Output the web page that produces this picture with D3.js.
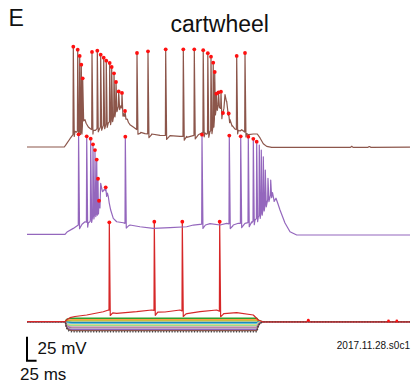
<!DOCTYPE html>
<html>
<head>
<meta charset="utf-8">
<script src="https://cdn.jsdelivr.net/npm/d3@7"></script>
<style>
  body { margin: 0; background: #fff; }
  svg { display: block; }
  text { font-family: "Liberation Sans", Arial, Helvetica, sans-serif; fill: #111; }
</style>
</head>
<body>
<svg id="chart" width="420" height="384"></svg>
<script>
// ---- recordings: time in ms, membrane potential in mV ----
// slow (sub-spike) membrane potential of each sweep, [t, mV]
const brownEnvelope = [
  [0,-65],[97.4,-65],[101.8,-62.6],[112.3,-56.4],[120.1,-52.2],[125.3,-48.8],[138.4,-48.0],
  [143.6,-47.5],[147.0,-33.1],[151.4,-36.6],[160.1,-44.2],[166.3,-46.3],[173.1,-47.7],
  [186.2,-45.2],[199.2,-42.8],[212.3,-40.0],[221.1,-36.6],[227.9,-31.4],[234.2,-24.4],
  [241.0,-22.0],[245.4,-22.0],[251.4,-30.0],[254.0,-33.0],[258.5,-32.0],[261.9,-36.0],
  [268.9,-41.8],[277.5,-44.2],[284.6,-46.3],[296.9,-49.8],[308.1,-51.1],[325.6,-51.5],
  [347.3,-52.9],[373.4,-53.2],[399.5,-54.0],[417.0,-54.0],[447.3,-52.2],[456.1,-50.4],
  [464.8,-50.4],[474.4,-51.1],[477.8,-48.8],[483.0,-47.0],[487.5,-41.8],[491.6,-27.9],
  [496.9,-22.7],[502.1,-19.2],[506.5,-26.1],[509.5,-33.0],[514.4,-20.0],[517.0,-10.5],
  [521.4,-17.5],[525.6,-32.0],[530.0,-36.6],[536.0,-42.8],[543.1,-46.3],[551.7,-47.7],
  [560.6,-47.0],[573.6,-51.1],[590.9,-51.5],[601.3,-51.5],[608.4,-55.6],[617.0,-61.6],
  [625.8,-64.4],[638.9,-65.4],[844.6,-65.4],[847.8,-64.3],[851.2,-65.4],[890.3,-65.4],
  [893.7,-64.5],[898.2,-65.4],[1000,-65.2]
];
const brownSpikes = [
  [120.9,39.5],[132.4,36.4],[137.6,29.8],[141.8,20.7],[145.4,6.5],[169.7,34.0],[183.6,35.3],
  [192.4,31.1],[200.3,28.0],[207.0,24.9],[215.9,22.5],[221.1,18.3],[227.2,11.7],[232.4,2.7],
  [239.4,-7.1],[248.0,-8.7],[255.9,-27.5],[287.2,32.9],[315.9,34.6],[362.1,36.7],[408.1,36.7],
  [436.8,36.7],[460.1,35.8],[472.1,32.7],[480.4,29.1],[486.2,22.8],[490.1,13.1],[494.3,-9.5],
  [500.0,-8.1],[506.5,-7.4],[511.7,-29.6],[526.6,-30.0],[547.5,29.8],[569.2,32.9]
];

const purpleEnvelope = [
  [0,-65],[99.2,-65],[104.4,-62.6],[120.9,-58.8],[133.9,-55.3],[151.4,-51.9],[160.1,-53.2],
  [168.9,-48.0],[177.5,-42.8],[186.2,-39.5],[190.1,-37.5],[192.4,-11.9],[197.7,-20.6],
  [202.0,-18.0],[210.0,-22.0],[212.3,-25.8],[218.5,-39.7],[225.3,-48.3],[234.2,-51.9],
  [251.4,-52.9],[268.9,-55.3],[295.0,-57.1],[329.8,-58.8],[373.4,-58.1],[417.0,-57.1],
  [434.2,-55.3],[451.7,-54.6],[477.8,-53.8],[504.0,-55.3],[521.4,-53.5],[538.6,-55.3],
  [551.7,-53.5],[569.2,-53.5],[586.7,-51.9],[595.3,-50.1],[604.0,-46.7],[612.8,-41.5],
  [621.4,-34.5],[630.0,-27.5],[638.9,-22.3],[641.0,-21.5],[645.0,-29.7],[650.1,-27.4],
  [655.4,-33.4],[660.6,-39.7],[673.6,-53.2],[686.7,-62.3],[704.2,-65.7],[1000,-65.7]
];
const purpleSpikes = [
  [134.7,39.2],[155.9,37.1],[166.3,34.6],[172.3,28.8],[177.5,22.8],[182.0,12.9],[185.4,-7.1],
  [188.0,-30.0],[205.5,-16.0],[256.7,36.7],[456.9,38.8],[528.2,37.9],[558.0,37.1],[577.8,36.7],
  [590.9,34.5],[599.7,31.5]
];
// rebound spikes after the step ends (not marked)
const purpleReboundSpikes = [
  [606.5,28.0],[611.7,22.8],[617.0,15.8],[622.2,2.0],[629.2,-6.7],[636.3,-8.4]
];

const redEnvelope = [
  [0,-65],[99.2,-65],[104.4,-62.7],[112.3,-60.8],[125.3,-59.6],[155.9,-58.0],[199.2,-54.6],
  [212.8,-52.8],[234.2,-56.3],[286.4,-54.6],[325.6,-52.8],[360.3,-54.9],[399.5,-52.8],
  [417.8,-56.5],[451.7,-54.6],[495.3,-52.8],[514.4,-56.5],[547.5,-55.6],[590.9,-58.0],
  [603.9,-63.2],[617.0,-65.3],[729.8,-65.3],[734.5,-63.5],[738.9,-65.3],[1000,-65.3]
];
const redSpikes = [[214.9,38.5],[332.4,39.2],[405.5,39.2],[503.1,39.2]];

// subthreshold / hyperpolarising sweeps: steady-state deflection during the step (mV)
const sweepColors = ["#2ca02c","#ff7f0e","#bcbd22","#1f77b4","#17becf","#aec7e8","#dbdb8d",
                     "#98df8a","#e377c2","#7f7f7f","#c5b0d5","#9467bd","#8c564b","#444444"];
const sweepLevels = [3.6, 1.8, 0.9, -0.6, -1.7, -2.5, -3.2, -4.2, -5.6, -6.6, -7.4, -8.3, -9.2, -10.4];
// time course of the step response, as a fraction of the steady-state deflection
const stepTimes = [0, 100, 102, 105, 110, 118, 600, 602, 606, 612, 620, 1000];
const stepFracs = [0, 0, 0.45, 0.75, 0.92, 1, 1, 0.7, 0.3, 0.08, 0, 0];

// spike markers that fall on sweep noise after the step
const noiseMarks = [[734.5,-63.5],[943.9,-64.2],[965.6,-64.2]];

const stimulusWindow = [100, 600];
const traceOffsets = { red: 0, purple: 91, brown: 182 };

// ---- layout ----
const svg = d3.select("#chart");
const x = d3.scaleLinear().domain([0, 1000]).range([27, 410]);
const y = d3.scaleLinear().domain([-65, 35]).range([321.7, 225.7]);

const line = d3.line().x(d => x(d[0])).y(d => y(d[1]));

// splice spikes into the slow potential
function buildTrace(envelope, spikes, ahp) {
  const env = d3.scaleLinear().domain(envelope.map(d => d[0])).range(envelope.map(d => d[1]));
  const times = spikes.map(s => s[0]);
  let pts = envelope.filter(p => !times.some(t => p[0] > t - 1 && p[0] < t + 3));
  spikes.forEach((s, i) => {
    const t = s[0], peak = s[1];
    const prev = i > 0 ? spikes[i - 1][0] : -Infinity;
    const next = i < spikes.length - 1 ? spikes[i + 1][0] : Infinity;
    const rise = Math.min(0.8, 0.3 * (t - prev));
    const fall = Math.min(2.5, 0.45 * (next - t));
    pts.push([t - rise, env(t - rise)], [t, peak], [t + fall, env(t + fall) - ahp]);
    if (t + 9 < next - 1) pts.push([t + 9, env(t + 9) - ahp * 0.25]);
  });
  pts.sort((a, b) => a[0] - b[0]);
  return pts;
}
const shift = (pts, off) => pts.map(p => [p[0], p[1] + off]);

// hyperpolarising / subthreshold sweep bundle
const shape = d3.scaleLinear().domain(stepTimes).range(stepFracs);
sweepLevels.forEach((lvl, i) => {
  const pts = stepTimes.map(t => [t, -65 + lvl * shape(t)]);
  svg.append("path")
    .attr("d", d3.line().x(d => x(d[0])).y(d => y(d[1])).curve(d3.curveMonotoneX)(pts))
    .attr("fill", "none")
    .attr("stroke", sweepColors[i])
    .attr("stroke-width", i === sweepLevels.length - 1 ? 1.6 : 1.3)
    .attr("stroke-dasharray", i === sweepLevels.length - 1 ? "1.2,1.6" : null);
});

const traces = [
  { env: redEnvelope, spikes: redSpikes, extra: [], ahp: 5, color: "#d62728", off: traceOffsets.red },
  { env: purpleEnvelope, spikes: purpleSpikes, extra: purpleReboundSpikes, ahp: 4.5, color: "#9467bd", off: traceOffsets.purple },
  { env: brownEnvelope, spikes: brownSpikes, extra: [], ahp: 4, color: "#8c564b", off: traceOffsets.brown }
];

traces.forEach(tr => {
  const all = tr.spikes.concat(tr.extra).sort((a, b) => a[0] - b[0]);
  const pts = shift(buildTrace(tr.env, all, tr.ahp), tr.off);
  svg.append("path")
    .attr("d", line(pts))
    .attr("fill", "none")
    .attr("stroke", tr.color)
    .attr("stroke-width", 1.2)
    .attr("stroke-linejoin", "round");
});

// spike markers (spikes detected within the current step)
traces.forEach(tr => {
  svg.append("g").selectAll("circle")
    .data(tr.spikes.filter(s => s[0] >= stimulusWindow[0] && s[0] <= stimulusWindow[1]))
    .join("circle")
    .attr("cx", d => x(d[0]))
    .attr("cy", d => y(d[1] + tr.off))
    .attr("r", 1.9)
    .attr("fill", "#ff1010");
});
svg.append("g").selectAll("circle")
  .data(noiseMarks)
  .join("circle")
  .attr("cx", d => x(d[0]))
  .attr("cy", d => y(d[1]))
  .attr("r", 1.4)
  .attr("fill", "#ff1010");

// scale bar: 25 mV / 25 ms
const barBottom = -105.6, barMv = 25, barMs = 25;
svg.append("path")
  .attr("d", `M${x(0)},${y(barBottom + barMv)}V${y(barBottom)}H${x(barMs)}`)
  .attr("fill", "none")
  .attr("stroke", "#000")
  .attr("stroke-width", 2);
svg.append("text").attr("x", 37.5).attr("y", 354).attr("font-size", 17).text("25 mV");
svg.append("text").attr("x", 20).attr("y", 380).attr("font-size", 17).text("25 ms");

svg.append("text").attr("x", 410).attr("y", 348.5).attr("font-size", 10)
  .attr("text-anchor", "end").text("2017.11.28.s0c1");

svg.append("text").attr("x", 219.7).attr("y", 32).attr("font-size", 23)
  .attr("text-anchor", "middle").text("cartwheel");
svg.append("text").attr("x", 8.5).attr("y", 26).attr("font-size", 23).text("E");
</script>
</body>
</html>
